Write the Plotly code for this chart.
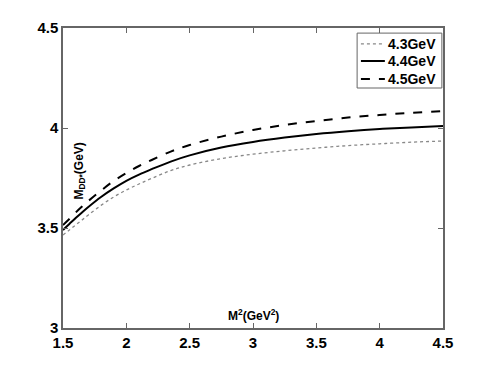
import plotly.graph_objects as go

x_vals = [1.5, 1.55, 1.6, 1.65, 1.7, 1.8, 1.9, 2.0, 2.1, 2.2, 2.35, 2.5, 2.75, 3.0, 3.25, 3.5, 3.75, 4.0, 4.25, 4.5]
y_43 = [3.465, 3.49, 3.515, 3.54, 3.565, 3.613, 3.655, 3.69, 3.72, 3.748, 3.787, 3.815, 3.847, 3.869, 3.886, 3.90, 3.912, 3.921, 3.929, 3.935]
y_44 = [3.49, 3.52, 3.55, 3.578, 3.605, 3.655, 3.698, 3.736, 3.767, 3.794, 3.832, 3.863, 3.902, 3.93, 3.952, 3.97, 3.984, 3.995, 4.003, 4.01]
y_45 = [3.515, 3.545, 3.577, 3.607, 3.635, 3.687, 3.735, 3.775, 3.81, 3.84, 3.882, 3.915, 3.957, 3.99, 4.015, 4.035, 4.052, 4.065, 4.076, 4.085]
names = ["4.3GeV", "4.4GeV", "4.5GeV"]
x_ticks = [1.5, 2, 2.5, 3, 3.5, 4, 4.5]
x_tick_labels = ["1.5", "2", "2.5", "3", "3.5", "4", "4.5"]
y_ticks = [3, 3.5, 4, 4.5]
y_tick_labels = ["3", "3.5", "4", "4.5"]

FONT = "Liberation Sans, Arial, sans-serif"

fig = go.Figure()
styles = [
    dict(color="#888888", width=1.3, dash="dot"),
    dict(color="black", width=2, dash="solid"),
    dict(color="black", width=2, dash="dash"),
]
for ys, nm, st in zip([y_43, y_44, y_45], names, styles):
    fig.add_trace(go.Scatter(x=x_vals, y=ys, mode="lines", name=nm, showlegend=False,
                             line=dict(shape="spline", smoothing=1.0, **st)))

axis_common = dict(showline=True, linecolor="#666666", linewidth=1.5, mirror="ticks",
                   ticks="inside", ticklen=5, tickcolor="#666666", showgrid=False,
                   zeroline=False, tickfont=dict(family=FONT, size=15, color="black", weight="bold"))
fig.update_xaxes(range=[1.5, 4.5], tickvals=x_ticks, ticktext=x_tick_labels, **axis_common)
fig.update_yaxes(range=[3, 4.5], tickvals=y_ticks, ticktext=y_tick_labels, **axis_common)

fig.add_annotation(x=0.045, y=0.522, xref="paper", yref="paper", xanchor="center", yanchor="middle",
                   text="<b>M<sub>DD*</sub>(GeV)</b>",
                   showarrow=False, textangle=-90, font=dict(family=FONT, size=12, color="black"))
fig.add_annotation(x=0.5, y=0.043, xref="paper", yref="paper", xanchor="center", yanchor="middle",
                   text="<b>M<sup>2</sup>(GeV<sup>2</sup>)</b>",
                   showarrow=False, font=dict(family=FONT, size=12, color="black"))

# legend box drawn as shapes and text
fig.add_shape(type="rect", xref="paper", yref="paper", x0=0.774, x1=0.997, y0=0.80, y1=0.983,
              line=dict(color="#666666", width=1), fillcolor="white", layer="above")
leg_y = [0.947, 0.89, 0.83]
for ly, nm, st in zip(leg_y, names, styles):
    fig.add_shape(type="line", xref="paper", yref="paper", x0=0.784, x1=0.847, y0=ly, y1=ly,
                  line=dict(color=st["color"], width=st["width"], dash=st["dash"]), layer="above")
    fig.add_annotation(x=0.849, y=ly, xref="paper", yref="paper", xanchor="left", yanchor="middle",
                       text="<b>%s</b>" % nm, showarrow=False,
                       font=dict(family=FONT, size=14, color="black"))

fig.update_layout(
    width=474, height=356,
    margin=dict(l=55, r=39, t=20, b=36),
    paper_bgcolor="white", plot_bgcolor="white",
    font=dict(family=FONT, size=13, color="black"),
    showlegend=False,
)
fig.write_html("out.html")
